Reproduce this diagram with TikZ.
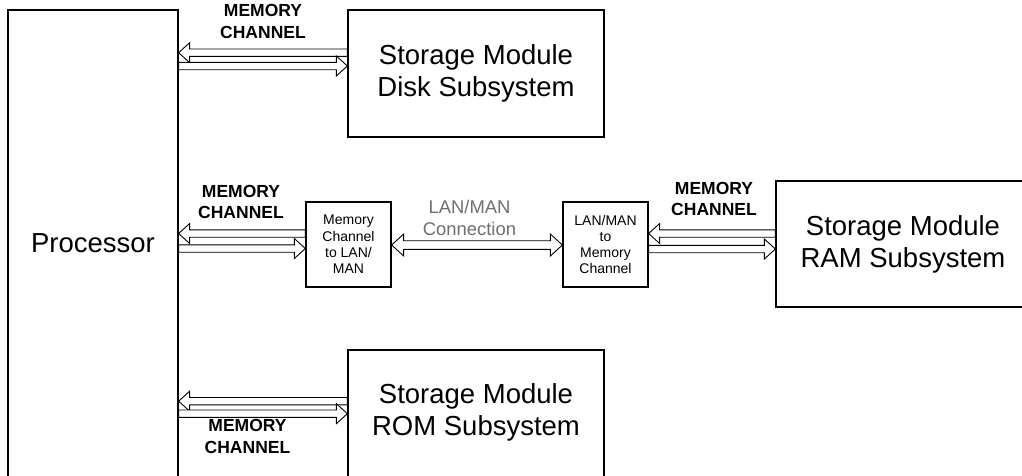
\documentclass[tikz,border=0pt]{standalone}
\usepackage{fontspec}
\setmainfont{Liberation Sans}
\usetikzlibrary{calc}

\definecolor{lanGray}{HTML}{6E6E6E}

% hollow block arrow geometry (coordinate units = pt)
\def\hlen{11pt}
\def\hhw{10}
\def\shw{3.7}

% one-way hollow arrow: tip at #1, tail at #2
\newcommand\onewayarrow[2]{%
  \draw[blockarrow] (#1)
    -- ($(#1)!\hlen!(#2)+(0,\hhw)$) -- ($(#1)!\hlen!(#2)+(0,\shw)$)
    -- ($(#2)+(0,\shw)$) -- ($(#2)+(0,-\shw)$)
    -- ($(#1)!\hlen!(#2)+(0,-\shw)$) -- ($(#1)!\hlen!(#2)+(0,-\hhw)$) -- cycle;}

% two-way hollow arrow between #1 and #2
\newcommand\twowayarrow[2]{%
  \draw[blockarrow] (#1)
    -- ($(#1)!\hlen!(#2)+(0,\hhw)$) -- ($(#1)!\hlen!(#2)+(0,\shw)$)
    -- ($(#2)!\hlen!(#1)+(0,\shw)$) -- ($(#2)!\hlen!(#1)+(0,\hhw)$)
    -- (#2)
    -- ($(#2)!\hlen!(#1)+(0,-\hhw)$) -- ($(#2)!\hlen!(#1)+(0,-\shw)$)
    -- ($(#1)!\hlen!(#2)+(0,-\shw)$) -- ($(#1)!\hlen!(#2)+(0,-\hhw)$) -- cycle;}

\tikzset{
  box/.style={draw, line width=1.3pt, fill=white, inner sep=0pt},
  big/.style={font=\fontsize{27.5}{32}\selectfont, align=center},
  small/.style={font=\fontsize{14}{16.3}\selectfont, align=center},
  chan/.style={font=\bfseries\fontsize{17.5}{21.5}\selectfont, align=center, inner sep=0pt},
  lan/.style={font=\fontsize{18.4}{22}\selectfont, align=center, text=lanGray, inner sep=0pt},
  blockarrow/.style={draw, line width=0.9pt, fill=white, line join=miter},
}

\begin{document}
\begin{tikzpicture}[x=1pt, y=-1pt]
\useasboundingbox (0,0) rectangle (1022,475);
\clip (0,0) rectangle (1022,475);

% processor and storage modules
\node[box, big, minimum width=170pt, minimum height=467pt] (proc) at (93,243.5) {Processor};
\node[box, big, minimum width=256pt, minimum height=127pt] (disk) at (476,73.5) {Storage Module\\Disk Subsystem};
\node[box, big, minimum width=254pt, minimum height=126pt] (ram) at (903,244) {Storage Module\\RAM Subsystem};
\node[box, minimum width=256pt, minimum height=130pt] (rom) at (476,415) {};
\node[big] (romtext) at (476,412) {Storage Module\\ROM Subsystem};

% LAN/MAN converters
\node[box, small, minimum width=85pt, minimum height=85pt] (m2l) at (348.5,244.5) {Memory\\Channel\\to LAN/\\MAN};
\node[box, small, minimum width=85pt, minimum height=85pt] (l2m) at (605.5,244.5) {LAN/MAN\\to\\Memory\\Channel};

% arrow end points on the box edges
\coordinate (d1) at (proc.east |- 0,52.7);
\coordinate (d2) at (disk.west |- 0,52.7);
\coordinate (d3) at (proc.east |- 0,66);
\coordinate (d4) at (disk.west |- 0,66);

\coordinate (m1) at (proc.east |- 0,233.5);
\coordinate (m2) at (m2l.west |- 0,233.5);
\coordinate (m3) at (proc.east |- 0,248.5);
\coordinate (m4) at (m2l.west |- 0,248.5);

\coordinate (n1) at (l2m.east |- 0,233.5);
\coordinate (n2) at (ram.west |- 0,233.5);
\coordinate (n3) at (l2m.east |- 0,249);
\coordinate (n4) at (ram.west |- 0,249);

\coordinate (r1) at (proc.east |- 0,401.2);
\coordinate (r2) at (rom.west |- 0,401.2);
\coordinate (r3) at (proc.east |- 0,413.7);
\coordinate (r4) at (rom.west |- 0,413.7);

\coordinate (l1) at (m2l.east |- 0,245);
\coordinate (l2) at (l2m.west |- 0,245);

% memory channels
\onewayarrow{d1}{d2}
\onewayarrow{d4}{d3}
\onewayarrow{m1}{m2}
\onewayarrow{m4}{m3}
\onewayarrow{n1}{n2}
\onewayarrow{n4}{n3}
\onewayarrow{r1}{r2}
\onewayarrow{r4}{r3}

% LAN/MAN link
\begingroup
\def\hlen{12pt}\def\hhw{11}\def\shw{4.3}
\twowayarrow{l1}{l2}
\endgroup

% labels
\node[chan] (c1) at (263,21.5) {MEMORY\\CHANNEL};
\node[chan] (c2) at (241,202) {MEMORY\\CHANNEL};
\node[chan] (c3) at (714,199) {MEMORY\\CHANNEL};
\node[chan] (c4) at (247.5,436.5) {MEMORY\\CHANNEL};
\node[lan] (lanlabel) at (469.5,218) {LAN/MAN\\Connection};
\end{tikzpicture}
\end{document}
